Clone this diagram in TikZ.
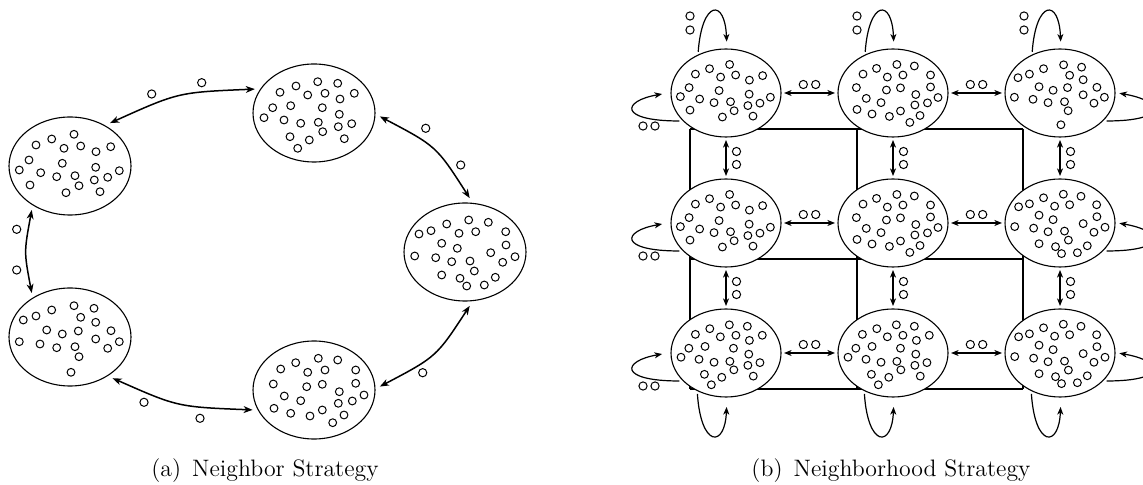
\documentclass[tikz,border=0pt]{standalone}
\usetikzlibrary{arrows.meta,shapes.geometric,calc}
% particle patterns (pixel offsets from the ellipse centre, y downwards)
\def\PatA{-34/-21,-18.3/-27,4/-31.7,-6/-17.7,10.7/-20,26/-14.3,40.7/-19.3,-41/-6,-7.7/-2.7,25.7/1.3,-50.7/4,-29.3/6.7,-13.3/10.7,5/9.7,24.3/14,37.7/11.3,49.3/4.7,-40/19,9/19.7,-4/26.7,30/25.7}
\def\PatB{-34/-20.7,-18/-27,3.7/-31.3,23.7/-29.7,-6.3/-18,11/-19.7,26/-14,40.3/-19.7,-41.3/-5.3,-23.3/-7.3,8.3/-5.3,-50/4.7,25.3/1.3,-30/7,-13.3/10.3,4.3/9.3,24.3/13.7,37.7/10.7,8.7/18.7,-24/23.7,-4.7/27,30.3/25.7,-16.3/35.3}
\def\PatC{-46/-18,-34/-21.3,-18.3/-28,3.7/-32,23.3/-29.7,-6/-18.7,10.7/-20.3,40.7/-20.3,-23.3/-8.7,-7.7/-3.7,41/-7,-50.3/4,-29.3/5.7,-13.3/9.7,5/9,25.7/0.7,37.7/10.3,50/4.7,9.3/19,-23.3/23,-5/26.3,1.7/34,19.3/33,30.3/25.3}
\def\PatD{-46.7/-17,-34/-21,-18.3/-27,4/-31.3,24/-28.7,10.7/-19.7,25.7/-14.7,-23.3/-7,-7.7/-3,8.3/-6,41/-6.3,25.7/2,-50.7/4.7,-30/7,-13.3/10.7,5/9.7,37.7/11.3,49.3/4.7,9/19.7,1/35.3}
\def\PatE{-33.3/-21,-18.3/-27.3,4.3/-31.7,23.7/-30,-6.3/-17.7,11/-20,41.7/-20,-40.7/-6,-7.3/-3.3,8.3/-5.7,41.7/-6.7,25.3/1.7,-29.7/6,-13.3/10.7,50/5,38.3/11,24.3/13.3,-40/18.3,-23.3/23.3,-4/26,8.3/20,30/25,18.7/32.7}
\newcommand{\Particles}[4]{\foreach \pa/\pb in #4 {\draw[dot] ({#1+#3*(\pa)},{#2+#3*(\pb)}) circle (3.9);}}
\tikzset{
  blob/.style={ellipse, draw, line width=0.55pt, minimum width=61pt, minimum height=49pt, inner sep=0pt, outer sep=2.5pt},
  cell/.style={ellipse, draw, fill=white, line width=0.55pt, minimum width=55pt, minimum height=44pt, inner sep=0pt, outer sep=1.5pt},
  tok/.style={circle, draw, line width=0.5pt, inner sep=0pt, minimum size=4.1pt},
  dot/.style={line width=0.5pt},
  ringar/.style={line width=0.75pt, {Stealth[length=4.5pt,width=3.4pt,inset=1.3pt]}-{Stealth[length=4.5pt,width=3.4pt,inset=1.3pt]}},
  gar/.style={line width=0.6pt, {Stealth[length=3.8pt,width=3pt,inset=1.1pt]}-{Stealth[length=3.8pt,width=3pt,inset=1.1pt]}},
  loopar/.style={line width=0.6pt, -{Stealth[length=3.8pt,width=3pt,inset=1.1pt]}},
  gridline/.style={line width=0.55pt},
  caption/.style={font=\fontsize{11.9}{14}\selectfont, anchor=base, inner sep=0pt}
}
\begin{document}
\begin{tikzpicture}[x=0.5pt,y=-0.5pt]
\useasboundingbox (0,0) rectangle (1143,485);

% ---------------- (a) Neighbor strategy ----------------
\node[blob] (e1) at (70,166) {};
\node[blob] (e2) at (314,113) {};
\node[blob] (e3) at (465,252) {};
\node[blob] (e4) at (70,337) {};
\node[blob] (e5) at (314,390) {};
\Particles{70}{166}{1}{\PatA}
\Particles{314}{113}{1}{\PatB}
\Particles{465}{252}{1}{\PatC}
\Particles{70}{337}{1}{\PatD}
\Particles{314}{390}{1}{\PatE}

\draw[ringar] (e1.47) .. controls (178.3,92.3) .. (e2.158);
\draw[ringar] (e2.357) .. controls (436.4,146.2) .. (e3.85);
\draw[ringar] (e3.275) .. controls (436.4,356.8) .. (e5.3);
\draw[ringar] (e5.198) .. controls (177.5,406.9) .. (e4.316);
\draw[ringar] (e4.131) .. controls (24,252) .. (e1.229);

\node[tok] (ta1) at (151.7,94) {};
\node[tok] (ta2) at (201.7,82.7) {};
\node[tok] (ta3) at (425.7,128.3) {};
\node[tok] (ta4) at (460.7,165) {};
\node[tok] (ta5) at (422.7,372.7) {};
\node[tok] (ta6) at (144,402.3) {};
\node[tok] (ta7) at (200,418.3) {};
\node[tok] (ta8) at (16.7,229.3) {};
\node[tok] (ta9) at (16.7,270) {};

\node[caption] (capa) at (265,476) {(a)\hspace{5.5pt}Neighbor Strategy};

% ---------------- (b) Neighborhood strategy ----------------
% wrap-around lattice behind the populations
\foreach \yy in {129,259,389}{
  \coordinate (hl-\yy) at (690,\yy);
  \coordinate (hr-\yy) at (1023,\yy);
  \draw[gridline] (hl-\yy) -- (hr-\yy);
}
\foreach \xx in {690,857,1023}{
  \coordinate (vt-\xx) at (\xx,129);
  \coordinate (vb-\xx) at (\xx,389);
  \draw[gridline] (vt-\xx) -- (vb-\xx);
}

\foreach \r/\y in {1/93,2/223,3/353}{
  \foreach \c/\x in {1/726,2/893,3/1060}{
    \node[cell] (g\r\c) at (\x,\y) {};
  }
}
\Particles{726}{93}{0.9}{\PatA}
\Particles{893}{93}{0.9}{\PatE}
\Particles{1060}{93}{0.9}{\PatD}
\Particles{726}{223}{0.9}{\PatA}
\Particles{893}{223}{0.9}{\PatE}
\Particles{1060}{223}{0.9}{\PatC}
\Particles{726}{353}{0.9}{\PatB}
\Particles{893}{353}{0.9}{\PatB}
\Particles{1060}{353}{0.9}{\PatC}

% neighbour exchanges
\foreach \r in {1,2,3}{
  \draw[gar] (g\r1.east) -- (g\r2.west);
  \draw[gar] (g\r2.east) -- (g\r3.west);
}
\foreach \c in {1,2,3}{
  \draw[gar] (g1\c.south) -- (g2\c.north);
  \draw[gar] (g2\c.south) -- (g3\c.north);
}
% labels on exchanges
\foreach \r/\y in {1/93,2/223,3/353}{
  \foreach \k/\m in {1/809.5,2/976.5}{
    \node[tok] (hx\r\k-a) at (\m-6.2,\y-8.5) {};
    \node[tok] (hx\r\k-b) at (\m+6.2,\y-8.5) {};
  }
}
\foreach \c/\x in {1/726,2/893,3/1060}{
  \foreach \k/\m in {1/158,2/288}{
    \node[tok] (vx\c\k-a) at (\x+10.5,\m-6.5) {};
    \node[tok] (vx\c\k-b) at (\x+10.5,\m+6.5) {};
  }
}

% wrap-around loops
\foreach \c/\x in {1/726,2/893,3/1060}{
  \draw[loopar, shorten >=2.2pt] (g1\c.124) .. controls ($(g1\c)+(-24,-93)$) and ($(g1\c)+(-1,-95)$) .. (g1\c.89);
  \draw[loopar, shorten >=3.5pt] (g3\c.235) .. controls ($(g3\c)+(-25,95)$) and ($(g3\c)+(-1,95)$) .. (g3\c.271);
  \node[tok] (tl\c-a) at (\x-36,16) {};
  \node[tok] (tl\c-b) at (\x-36,30) {};
}
\foreach \r/\y in {1/93,2/223,3/353}{
  \draw[loopar, shorten >=3pt] (g\r1.211) .. controls ($(g\r1)+(-108,28)$) and ($(g\r1)+(-104,8)$) .. (g\r1.west);
  \draw[loopar, shorten >=0.7pt] (g\r3.329) .. controls ($(g\r3)+(108,28)$) and ($(g\r3)+(104,8)$) .. (g\r3.east);
  \node[tok] (ll\r-a) at (643,\y+33) {};
  \node[tok] (ll\r-b) at (655,\y+33) {};
}

\node[caption] (capb) at (891,476) {(b)\hspace{5.5pt}Neighborhood Strategy};
\end{tikzpicture}
\end{document}
